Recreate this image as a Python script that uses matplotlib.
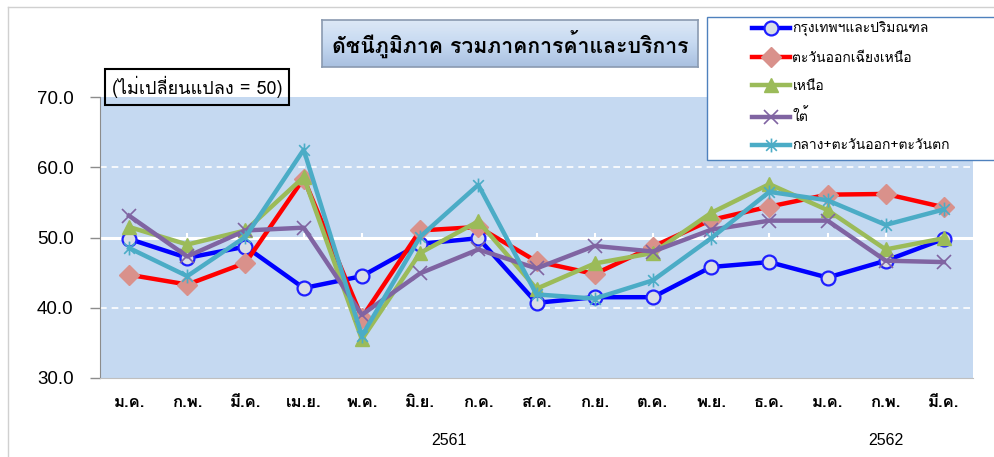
import matplotlib
matplotlib.use('Agg')
import matplotlib.pyplot as plt
import numpy as np
from matplotlib import font_manager, ft2font
from matplotlib.colors import LinearSegmentedColormap
from matplotlib.path import Path
from matplotlib.patches import Rectangle
from matplotlib.lines import Line2D


# find an installed family that has Thai glyphs
def thai_family():
    for f in font_manager.fontManager.ttflist:
        try:
            if 0x0E01 in ft2font.FT2Font(f.fname).get_charmap():
                return f.name
        except Exception:
            pass
    return None


thai = thai_family()
fams = ([thai] if thai else []) + ['Liberation Sans', 'DejaVu Sans']
plt.rcParams['font.family'] = fams

# data
months = ['ม.ค.', 'ก.พ.', 'มี.ค.', 'เม.ย.', 'พ.ค.', 'มิ.ย.', 'ก.ค.', 'ส.ค.',
          'ก.ย.', 'ต.ค.', 'พ.ย.', 'ธ.ค.', 'ม.ค.', 'ก.พ.', 'มี.ค.']
years = ['2561', '2562']
year_pos = [5.5, 13]

bangkok = [49.8, 47.1, 48.7, 42.8, 44.5, 49.1, 49.9, 40.7,
           41.5, 41.5, 45.8, 46.5, 44.3, 46.7, 49.8]
northeast = [44.7, 43.3, 46.4, 58.4, 38.6, 51.0, 51.5, 46.6,
             44.8, 48.7, 52.5, 54.4, 56.1, 56.2, 54.3]
north = [51.5, 49.0, 51.0, 58.6, 35.5, 47.8, 52.3, 42.7,
         46.3, 47.8, 53.5, 57.6, 53.9, 48.3, 49.9]
south = [53.1, 47.3, 51.0, 51.4, 39.0, 44.9, 48.3, 45.6,
         48.8, 48.0, 51.1, 52.4, 52.4, 46.7, 46.5]
central = [48.5, 44.5, 50.1, 62.5, 36.0, 50.1, 57.5, 41.9,
           41.3, 43.9, 49.9, 56.5, 55.3, 51.8, 54.0]

labels = ['กรุงเทพฯและปริมณฑล', 'ตะวันออกเฉียงเหนือ', 'เหนือ', 'ใต้',
          'กลาง+ตะวันออก+ตะวันตก']

# excel-like star marker: x with a vertical bar
star = Path([(-1, -1), (1, 1), (-1, 1), (1, -1), (0, -1.3), (0, 1.3)],
            [Path.MOVETO, Path.LINETO, Path.MOVETO, Path.LINETO,
             Path.MOVETO, Path.LINETO])

fig = plt.figure(figsize=(9.95, 4.57), dpi=100)
ax = fig.add_axes([0.1005, 0.1729, 0.8774, 0.6148])
ax.set_facecolor('#C5D9F1')

x = range(len(months))
ax.plot(x, bangkok, color='#0000FF', lw=3.2, marker='o', ms=10,
        mfc='#D9DEE6', mec='#1F1FFF', mew=1.6, label=labels[0])
ax.plot(x, northeast, color='#FF0000', lw=3.2, marker='D', ms=10,
        mfc='#D9918B', mec='#D9918B', label=labels[1])
ax.plot(x, north, color='#9BBB59', lw=3.2, marker='^', ms=10,
        mfc='#9BBB59', mec='#9BBB59', label=labels[2])
ax.plot(x, south, color='#8064A2', lw=3.2, marker='x', ms=10,
        mew=1.2, label=labels[3])
ax.plot(x, central, color='#4BACC6', lw=3.2, marker=star, ms=10,
        mew=1.2, label=labels[4])

ax.set_xlim(-0.5, len(months) - 0.5)
ax.set_ylim(30, 70)
ax.set_yticks([30, 40, 50, 60, 70])
ax.set_yticklabels(['%.1f' % v for v in [30, 40, 50, 60, 70]],
                   family=['Liberation Sans', 'DejaVu Sans'], fontsize=13.5)
ax.tick_params(axis='y', length=7, width=1, color='#8C8C8C', pad=12)
ax.set_xticks(list(x))
ax.set_xticklabels(months, fontsize=12, fontweight='bold')
ax.tick_params(axis='x', length=0, pad=12)

# gridlines
for v in [40, 60]:
    ax.axhline(v, color='white', lw=1.2, ls=(0, (4, 3)), zorder=1)
ax.axhline(50, color='white', lw=2.2, zorder=1)
ax.vlines(list(x), 50, 50.6, color='white', lw=1.5, zorder=1)

for s in ['top', 'right']:
    ax.spines[s].set_visible(False)
ax.spines['left'].set_color('#8C8C8C')
ax.spines['bottom'].set_color('#BFBFBF')

# year labels
for yr, p in zip(years, year_pos):
    ax.annotate(yr, (p, 0), xycoords=('data', 'axes fraction'),
                xytext=(0, -45), textcoords='offset points',
                ha='center', va='center', fontsize=11.5,
                family=['Liberation Sans Narrow', 'Liberation Sans'])

# title box with a soft vertical gradient
tax = fig.add_axes([322 / 995, 1 - 67 / 457, 376 / 995, 47 / 457])
grad = np.linspace(0, 1, 64).reshape(-1, 1)
cmap = LinearSegmentedColormap.from_list('tb', ['#DDE8F6', '#C6D9F1',
                                                '#A9C0E0'])
tax.imshow(grad, aspect='auto', cmap=cmap, extent=[0, 1, 0, 1],
           origin='upper')
tax.set_xticks([])
tax.set_yticks([])
for s in tax.spines.values():
    s.set_color('#8A9AB0')
    s.set_linewidth(1.2)
tax.text(0.5, 0.5, 'ดัชนีภูมิภาค รวมภาคการค้าและบริการ', ha='center',
         va='center', fontsize=15.3, fontweight='bold',
         transform=tax.transAxes)

# note box
fig.text(197 / 995, 1 - 87 / 457, '(ไม่เปลี่ยนแปลง = 50)', ha='center',
         va='center', fontsize=13,
         bbox=dict(boxstyle='square,pad=0.4', fc='none', ec='black',
                   lw=1.5))

# legend frame runs past the right edge
fig.patches.append(Rectangle((707 / 995, 1 - 160 / 457), 300 / 995,
                             143 / 457, transform=fig.transFigure,
                             fc='white', ec='#4F81BD', lw=1.0, zorder=3))
leg = fig.legend(loc='upper left', bbox_to_anchor=(748 / 995, 1 - 18 / 457),
                 fontsize=10, frameon=False,
                 borderpad=0.3, labelspacing=1.1, handlelength=2.7,
                 handletextpad=0.2, borderaxespad=0)
leg.set_zorder(4)

# outer frame lines
fig.add_artist(Line2D([8 / 995, 8 / 995], [0, 1 - 7 / 457],
                      color='#D0D0D0', lw=1, transform=fig.transFigure))
fig.add_artist(Line2D([8 / 995, 1], [1 - 7 / 457, 1 - 7 / 457],
                      color='#D0D0D0', lw=1, transform=fig.transFigure))

fig.savefig('out.png', dpi=100)
